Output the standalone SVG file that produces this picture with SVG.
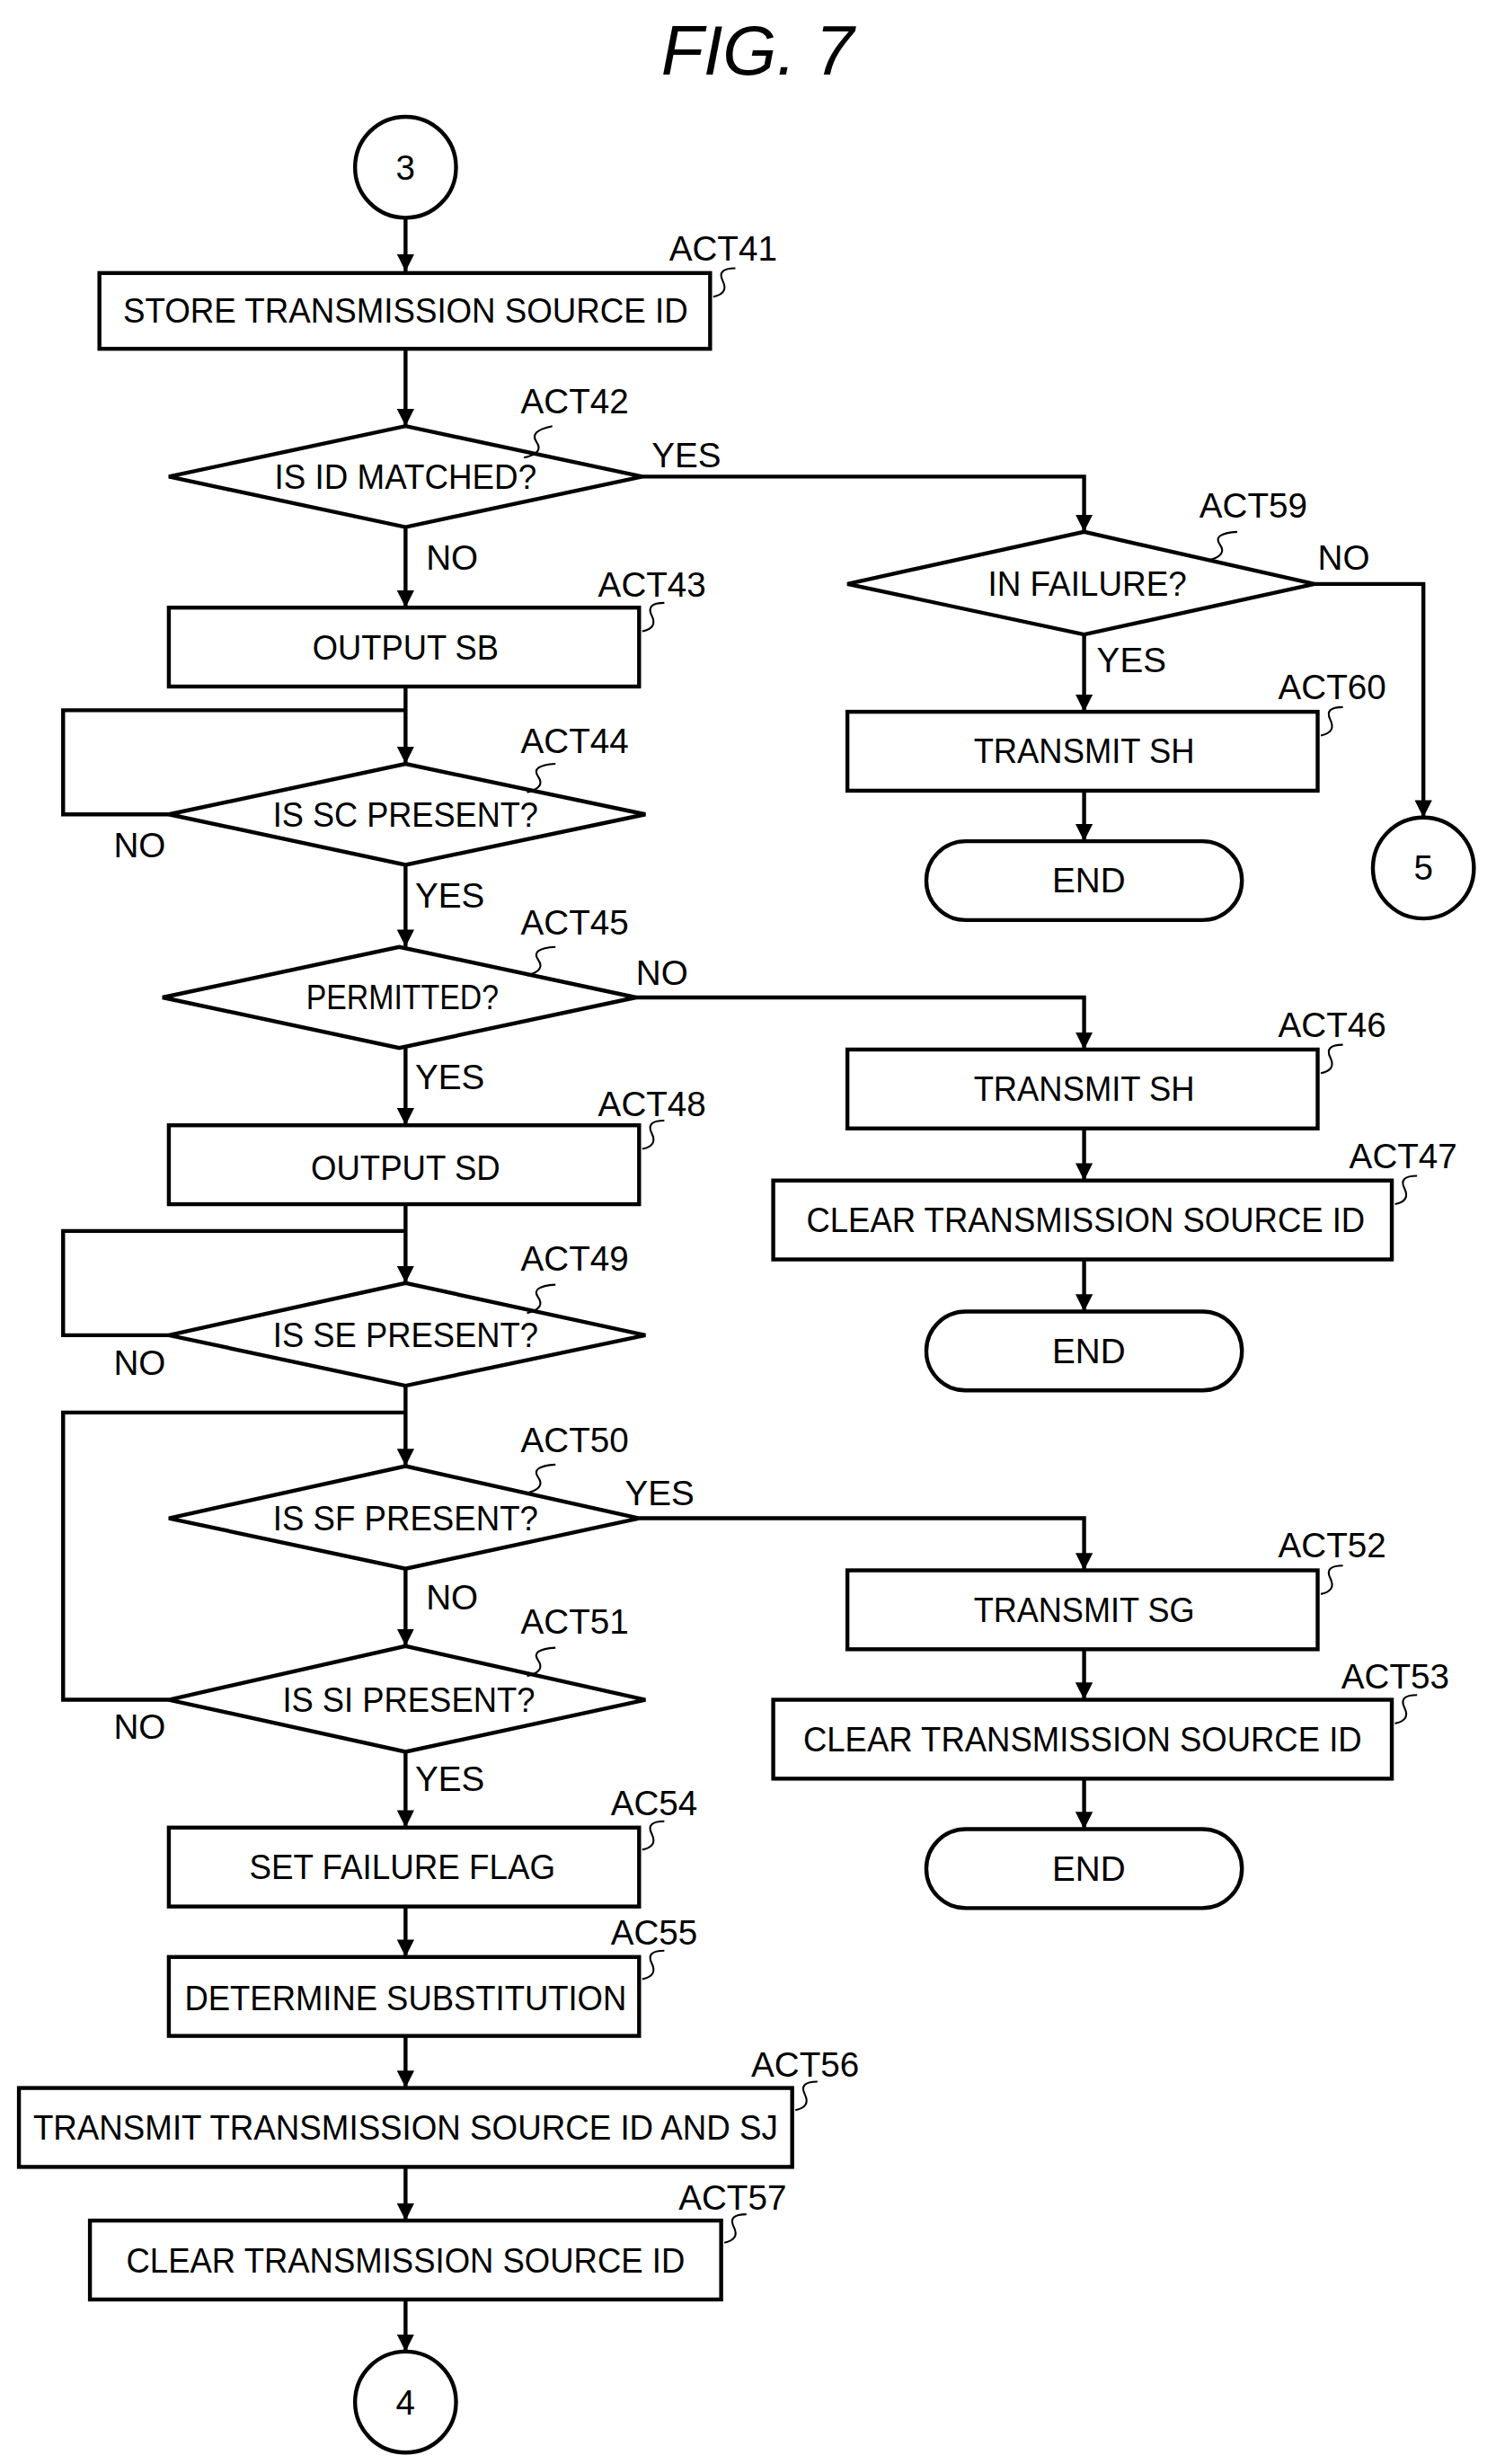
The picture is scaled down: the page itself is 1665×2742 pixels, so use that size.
<svg xmlns="http://www.w3.org/2000/svg" width="1665" height="2742" viewBox="0 0 1665 2742">
<style>
.s{fill:#fff;stroke:#000;stroke-width:2.5}
.l{fill:none;stroke:#000;stroke-width:2.5}
.t{font-family:"Liberation Sans",Arial,sans-serif;font-size:22px;text-anchor:middle;dominant-baseline:central}
.a{font-family:"Liberation Sans",Arial,sans-serif;font-size:22px}
.ld{fill:none;stroke:#000;stroke-width:1.2}
</style>
<defs><marker id="ar" viewBox="0 0 10 10" refX="10" refY="5" markerWidth="5" markerHeight="5" orient="auto" markerUnits="userSpaceOnUse"><path d="M0,0L10,5L0,10z"/></marker>
<marker id="arr" viewBox="0 0 10 10" refX="10" refY="5" markerWidth="11" markerHeight="11" orient="auto" markerUnits="userSpaceOnUse"><path d="M0,0L10,5L0,10z"/></marker></defs>
<rect width="1665" height="2742" fill="#fff"/>
<g transform="scale(1.7563)">
<text x="480" y="47" style="font-family:'Liberation Sans',Arial,sans-serif;font-size:44px;font-style:italic;text-anchor:middle">FIG. 7</text>
<g id="connectors" class="l">
<path d="M257,138V172" marker-end="url(#arr)"/>
<path d="M257,221V270" marker-end="url(#arr)"/>
<path d="M407,302H687V337" marker-end="url(#arr)"/>
<path d="M257,334V385" marker-end="url(#arr)"/>
<path d="M257,435V484" marker-end="url(#arr)"/>
<path d="M107,516H40V450H257"/>
<path d="M257,548V600" marker-end="url(#arr)"/>
<path d="M403,632H687V665" marker-end="url(#arr)"/>
<path d="M257,664V713" marker-end="url(#arr)"/>
<path d="M257,763V813" marker-end="url(#arr)"/>
<path d="M107,846H40V780H257"/>
<path d="M257,878V929" marker-end="url(#arr)"/>
<path d="M107,1077H40V895H257"/>
<path d="M405,962H687V995" marker-end="url(#arr)"/>
<path d="M257,994V1043" marker-end="url(#arr)"/>
<path d="M257,1110V1158" marker-end="url(#arr)"/>
<path d="M257,1208V1240" marker-end="url(#arr)"/>
<path d="M257,1290V1323" marker-end="url(#arr)"/>
<path d="M257,1373V1407" marker-end="url(#arr)"/>
<path d="M257,1457V1490" marker-end="url(#arr)"/>
<path d="M833,370H902V518" marker-end="url(#arr)"/>
<path d="M687,402V451" marker-end="url(#arr)"/>
<path d="M687,501V533" marker-end="url(#arr)"/>
<path d="M687,715V748" marker-end="url(#arr)"/>
<path d="M687,798V831" marker-end="url(#arr)"/>
<path d="M687,1045V1077" marker-end="url(#arr)"/>
<path d="M687,1127V1159" marker-end="url(#arr)"/>
</g>
<g id="edge-labels" class="a">
<text x="413" y="296">YES</text><text x="270" y="361">NO</text>
<text x="72" y="543">NO</text><text x="263" y="575">YES</text>
<text x="403" y="624">NO</text><text x="263" y="690">YES</text>
<text x="72" y="871">NO</text><text x="396" y="954">YES</text>
<text x="270" y="1020">NO</text><text x="72" y="1102">NO</text>
<text x="263" y="1135">YES</text>
<text x="835" y="361">NO</text><text x="695" y="426">YES</text>
</g>
<g id="c3"><circle class="s" cx="257" cy="106" r="32"/><text class="t" x="257" y="106">3</text></g>
<g id="ACT41"><rect class="s" x="63" y="173" width="387" height="48"/><text class="t" x="257" y="197" textLength="358" lengthAdjust="spacingAndGlyphs">STORE TRANSMISSION SOURCE ID</text><path class="ld" d="M452,188Q462,186 458,178T466,170"/><text class="a" x="424" y="165">ACT41</text></g>
<g id="ACT42"><path class="s" d="M107,302L257,270L407,302L257,334z"/><text class="t" x="257" y="302" textLength="166" lengthAdjust="spacingAndGlyphs">IS ID MATCHED?</text><path class="ld" d="M332,290Q345,287 340,280T350,270"/><text class="a" x="330" y="262">ACT42</text></g>
<g id="ACT43"><rect class="s" x="107" y="385" width="298" height="50"/><text class="t" x="257" y="410" textLength="118" lengthAdjust="spacingAndGlyphs">OUTPUT SB</text><path class="ld" d="M407,400Q417,398 413,390T421,382"/><text class="a" x="379" y="378">ACT43</text></g>
<g id="ACT44"><path class="s" d="M107,516L257,484L409,516L257,548z"/><text class="t" x="257" y="516" textLength="168" lengthAdjust="spacingAndGlyphs">IS SC PRESENT?</text><path class="ld" d="M334,502Q346,499 341,492T352,484"/><text class="a" x="330" y="477">ACT44</text></g>
<g id="ACT45"><path class="s" d="M103,632L253,600L403,632L253,664z"/><text class="t" x="255" y="632" textLength="122" lengthAdjust="spacingAndGlyphs">PERMITTED?</text><path class="ld" d="M334,618Q346,615 341,608T352,600"/><text class="a" x="330" y="592">ACT45</text></g>
<g id="ACT48"><rect class="s" x="107" y="713" width="298" height="50"/><text class="t" x="257" y="740" textLength="120" lengthAdjust="spacingAndGlyphs">OUTPUT SD</text><path class="ld" d="M407,728Q417,726 413,718T421,710"/><text class="a" x="379" y="707">ACT48</text></g>
<g id="ACT49"><path class="s" d="M107,846L257,813L409,846L257,878z"/><text class="t" x="257" y="846" textLength="168" lengthAdjust="spacingAndGlyphs">IS SE PRESENT?</text><path class="ld" d="M334,832Q346,829 341,822T352,814"/><text class="a" x="330" y="805">ACT49</text></g>
<g id="ACT50"><path class="s" d="M107,962L257,929L405,962L257,994z"/><text class="t" x="257" y="962" textLength="168" lengthAdjust="spacingAndGlyphs">IS SF PRESENT?</text><path class="ld" d="M334,946Q346,943 341,936T352,928"/><text class="a" x="330" y="920">ACT50</text></g>
<g id="ACT51"><path class="s" d="M107,1077L257,1043L409,1077L257,1110z"/><text class="t" x="259" y="1077" textLength="160" lengthAdjust="spacingAndGlyphs">IS SI PRESENT?</text><path class="ld" d="M334,1062Q346,1059 341,1052T352,1044"/><text class="a" x="330" y="1035">ACT51</text></g>
<g id="AC54"><rect class="s" x="107" y="1158" width="298" height="50"/><text class="t" x="255" y="1183" textLength="194" lengthAdjust="spacingAndGlyphs">SET FAILURE FLAG</text><path class="ld" d="M407,1172Q417,1170 413,1162T421,1154"/><text class="a" x="387" y="1150">AC54</text></g>
<g id="AC55"><rect class="s" x="107" y="1240" width="298" height="50"/><text class="t" x="257" y="1266" textLength="280" lengthAdjust="spacingAndGlyphs">DETERMINE SUBSTITUTION</text><path class="ld" d="M407,1254Q417,1252 413,1244T421,1236"/><text class="a" x="387" y="1232">AC55</text></g>
<g id="ACT56"><rect class="s" x="12" y="1323" width="490" height="50"/><text class="t" x="257" y="1348" textLength="472" lengthAdjust="spacingAndGlyphs">TRANSMIT TRANSMISSION SOURCE ID AND SJ</text><path class="ld" d="M504,1337Q514,1335 510,1327T518,1319"/><text class="a" x="476" y="1316">ACT56</text></g>
<g id="ACT57"><rect class="s" x="57" y="1407" width="400" height="50"/><text class="t" x="257" y="1432" textLength="354" lengthAdjust="spacingAndGlyphs">CLEAR TRANSMISSION SOURCE ID</text><path class="ld" d="M459,1421Q469,1419 465,1411T473,1403"/><text class="a" x="430" y="1400">ACT57</text></g>
<g id="c4"><circle class="s" cx="257" cy="1522" r="32"/><text class="t" x="257" y="1522">4</text></g>
<g id="ACT59"><path class="s" d="M537,370L687,337L833,370L687,402z"/><text class="t" x="689" y="370" textLength="126" lengthAdjust="spacingAndGlyphs">IN FAILURE?</text><path class="ld" d="M766,355Q778,352 773,345T784,337"/><text class="a" x="760" y="328">ACT59</text></g>
<g id="ACT60"><rect class="s" x="537" y="451" width="298" height="50"/><text class="t" x="687" y="476" textLength="140" lengthAdjust="spacingAndGlyphs">TRANSMIT SH</text><path class="ld" d="M837,466Q847,464 843,456T851,448"/><text class="a" x="810" y="443">ACT60</text></g>
<g id="end1"><rect class="s" x="587" y="533" width="200" height="50" rx="25"/><text class="t" x="690" y="558">END</text></g>
<g id="c5"><circle class="s" cx="902" cy="550" r="32"/><text class="t" x="902" y="550">5</text></g>
<g id="ACT46"><rect class="s" x="537" y="665" width="298" height="50"/><text class="t" x="687" y="690" textLength="140" lengthAdjust="spacingAndGlyphs">TRANSMIT SH</text><path class="ld" d="M837,680Q847,678 843,670T851,662"/><text class="a" x="810" y="657">ACT46</text></g>
<g id="ACT47"><rect class="s" x="490" y="748" width="392" height="50"/><text class="t" x="688" y="773" textLength="354" lengthAdjust="spacingAndGlyphs">CLEAR TRANSMISSION SOURCE ID</text><path class="ld" d="M884,763Q894,761 890,753T898,745"/><text class="a" x="855" y="740">ACT47</text></g>
<g id="end2"><rect class="s" x="587" y="831" width="200" height="50" rx="25"/><text class="t" x="690" y="856">END</text></g>
<g id="ACT52"><rect class="s" x="537" y="995" width="298" height="50"/><text class="t" x="687" y="1020" textLength="140" lengthAdjust="spacingAndGlyphs">TRANSMIT SG</text><path class="ld" d="M837,1010Q847,1008 843,1000T851,992"/><text class="a" x="810" y="987">ACT52</text></g>
<g id="ACT53"><rect class="s" x="490" y="1077" width="392" height="50"/><text class="t" x="686" y="1102" textLength="354" lengthAdjust="spacingAndGlyphs">CLEAR TRANSMISSION SOURCE ID</text><path class="ld" d="M884,1092Q894,1090 890,1082T898,1074"/><text class="a" x="850" y="1070">ACT53</text></g>
<g id="end3"><rect class="s" x="587" y="1159" width="200" height="50" rx="25"/><text class="t" x="690" y="1184">END</text></g>
</g>
</svg>
